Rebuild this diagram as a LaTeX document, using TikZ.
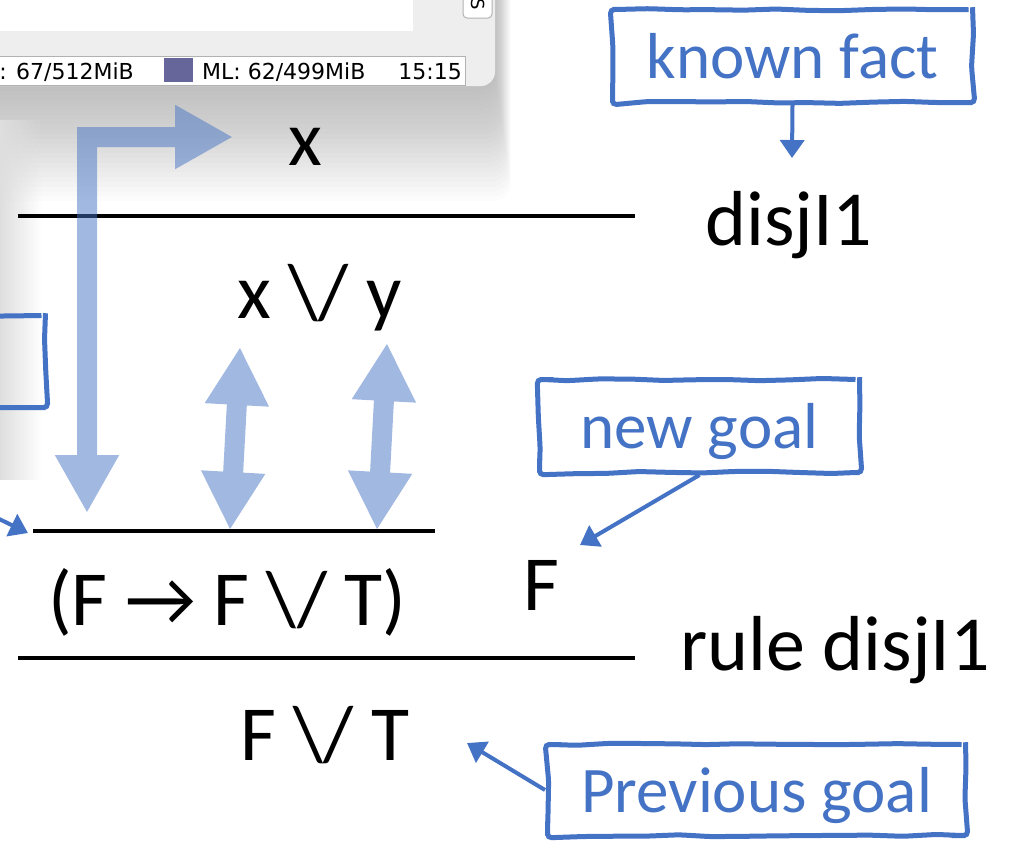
\documentclass[tikz,border=0pt]{standalone}
\usepackage{fontspec}
\setmainfont{Carlito}
\newfontfamily\uifont{DejaVu Sans}
\usetikzlibrary{arrows.meta,decorations.pathmorphing,fadings}
\definecolor{noteblue}{RGB}{68,114,196}
\definecolor{panelgray}{RGB}{238,238,238}
\definecolor{framegray}{RGB}{178,178,178}
\definecolor{mlviolet}{RGB}{102,102,155}

\begin{document}
\begin{tikzpicture}[x=1pt,y=-1pt,
    frm/.style={inner sep=0pt, font=\fontsize{78}{86}\selectfont},
    ui/.style={inner sep=0pt, font=\uifont\fontsize{22}{26}\selectfont},
    bar/.style={line width=4.8pt},
    note/.style={draw=noteblue, line width=5pt, text=noteblue, inner sep=0pt,
                 font=\fontsize{65}{72}\selectfont, text height=45pt, text depth=0pt,
                 decorate, decoration={random steps, segment length=32pt, amplitude=1.2pt},
                 rounded corners=4pt},
    ptr/.style={draw=noteblue, line width=4pt, -{Triangle[length=18pt,width=24pt]}},
    pipe/.style={line width=20pt, noteblue, line join=miter,
                 {Triangle[length=58pt,width=60pt]}-{Triangle[length=58pt,width=60pt]}}]
  \pgfmathsetseed{7}
  \useasboundingbox (0,0) rectangle (1016,844);
  \clip (0,0) rectangle (1016,844);

  % screenshot fragment with its shadow
  \foreach \r in {3,6,...,72}
    \fill[black, opacity=0.01, rounded corners=18pt] (-200,-200) rectangle ({495+0.22*\r},{86+1.6*\r});
  \fill[black!13, path fading=east] (0,120) rectangle (42,480);
  \fill[panelgray, rounded corners=14pt] (-200,-200) rectangle (495,86);
  \fill[white] (-200,-200) rectangle (413,31);
  \filldraw[fill=white, draw=framegray, line width=1pt] (-10,56) rectangle (465,85);
  \fill[mlviolet] (164,58) rectangle (193,82);
  \filldraw[fill=white, draw=framegray, line width=1pt, rounded corners=4pt] (463,-20) rectangle (492,18);
  \node[ui, anchor=base east] (jvm) at (134,79) {: 67/512MiB};
  \node[ui, anchor=base west] (ml) at (202,79) {ML: 62/499MiB};
  \node[ui, anchor=base east] (clock) at (462,79) {15:15};
  \node[ui, rotate=-90, font=\uifont\fontsize{18}{20}\selectfont] (tab) at (478,4) {S};

  % inference bars
  \draw[bar] (18,216) -- (635,216);
  \draw[bar] (33,531) -- (435,531);
  \draw[bar] (18,658) -- (635,658);

  % formulas and rule names
  \node[frm, anchor=base] (fx) at (305,165) {x};
  \node[frm, anchor=base west] (rone) at (705,245) {disjI1};
  \node[frm, anchor=base west] (fxy) at (237,318) {x \textbackslash/ y};
  \node[frm, anchor=base west] (fimp) at (48,625) {(F → F \textbackslash/ T)};
  \node[frm, anchor=base] (fnew) at (541,610) {F};
  \node[frm, anchor=base west] (rtwo) at (680,670) {rule disjI1};
  \node[frm, anchor=base west] (fold) at (240,760) {F \textbackslash/ T};

  % callouts
  \node[note, minimum width=360pt, minimum height=93pt] (fact) at (792.5,56) {known fact};
  \node[note, minimum width=320pt, minimum height=93pt] (goal) at (699.5,426) {new goal};
  \node[note, minimum width=418pt, minimum height=91pt] (prev) at (756.5,790) {Previous goal};
  \node[note, minimum width=150pt, minimum height=92pt] (side) at (-29.5,361.5) {};

  \coordinate (facttip) at (792,158);
  \coordinate (goaltip) at (580,545);
  \coordinate (prevtip) at (467,743);
  \coordinate (offleft) at (-40,500);
  \coordinate (lefttip) at (28,533);
  \draw[ptr] (fact.south) -- (facttip);
  \draw[ptr] (goal.south) -- (goaltip);
  \draw[ptr] (prev.west) -- (prevtip);
  \draw[ptr] (offleft) -- (lefttip);

  % matching arrows
  \coordinate (bendlo) at (87,513);
  \coordinate (bendhi) at (233,137);
  \coordinate (xtop) at (240,347);
  \coordinate (xbot) at (230,530);
  \coordinate (ytop) at (387,343);
  \coordinate (ybot) at (377,530);
  \begin{scope}[transparency group, opacity=0.5]
    \draw[pipe] (bendlo) |- (bendhi);
    \draw[pipe] (xtop) -- (xbot);
    \draw[pipe] (ytop) -- (ybot);
  \end{scope}
\end{tikzpicture}
\end{document}
